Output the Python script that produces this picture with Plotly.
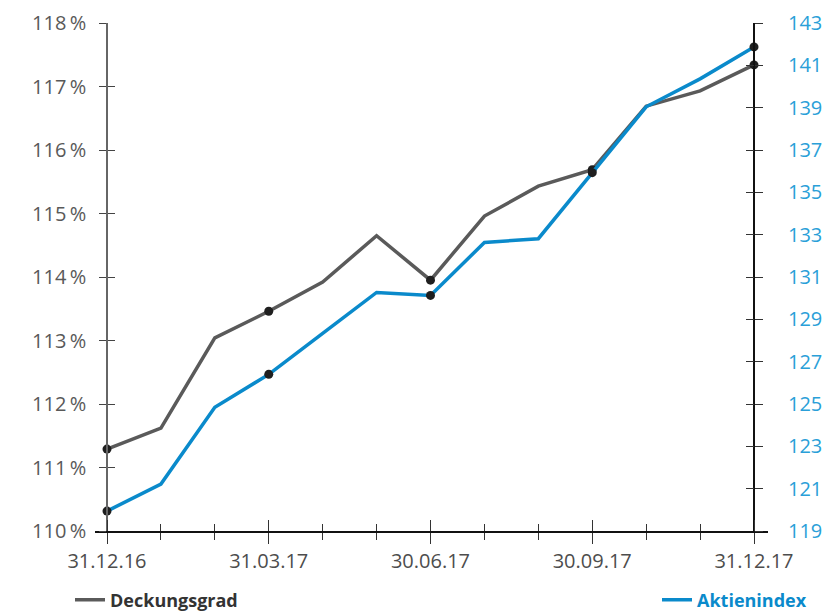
import plotly.graph_objects as go

# ---- data ----
dates = ["31.12.16", "31.01.17", "28.02.17", "31.03.17", "30.04.17", "31.05.17",
         "30.06.17", "31.07.17", "31.08.17", "30.09.17", "31.10.17", "30.11.17", "31.12.17"]
deckungsgrad = [111.29, 111.62, 113.04, 113.46, 113.92, 114.65, 113.95,
                114.96, 115.43, 115.69, 116.69, 116.93, 117.34]
aktienindex = [119.94, 121.22, 124.85, 126.40, 128.34, 130.27, 130.13,
               132.63, 132.81, 135.93, 139.04, 140.36, 141.87]
quarter_labels = ["31.12.16", "31.03.17", "30.06.17", "30.09.17", "31.12.17"]
left_ticks = list(range(110, 119))
right_ticks = list(range(119, 144, 2))

# ---- styling ----
GRAY = "#5a5a5a"
BLUE = "#0a8acb"
FONT = "Open Sans"
W, H = 840, 611
L, R, T, B = 95, 72, 23, 80
x0_px, x12_px = 107, 754
plot_w = W - L - R
unit = (x12_px - x0_px) / 12
xr = [-(x0_px - L) / unit, 12 + (W - R - x12_px) / unit]
pos_left = (x0_px - L) / plot_w
pos_right = (x12_px - L) / plot_w

xs = list(range(len(dates)))
tickvals = [dates.index(q) for q in quarter_labels]
q_idx = tickvals

fig = go.Figure()
fig.add_trace(go.Scatter(
    x=xs, y=deckungsgrad, name="Deckungsgrad", mode="lines",
    line=dict(color=GRAY, width=3.5),
    xaxis="x", yaxis="y", legend="legend"))
fig.add_trace(go.Scatter(
    x=xs, y=aktienindex, name="Aktienindex", mode="lines",
    line=dict(color=BLUE, width=3.5),
    xaxis="x", yaxis="y2", legend="legend2"))
# quarter-end markers
fig.add_trace(go.Scatter(
    x=q_idx, y=[deckungsgrad[i] for i in q_idx], mode="markers",
    marker=dict(color="#1f1f1f", size=9, line=dict(width=0), opacity=1),
    xaxis="x", yaxis="y", showlegend=False, hoverinfo="skip"))
fig.add_trace(go.Scatter(
    x=q_idx, y=[aktienindex[i] for i in q_idx], mode="markers",
    marker=dict(color="#1f1f1f", size=9, line=dict(width=0), opacity=1),
    xaxis="x", yaxis="y2", showlegend=False, hoverinfo="skip"))
# empty traces to create the overlay axes used for inward tick halves
for xa, ya in [("x", "y3"), ("x", "y4"), ("x2", "y")]:
    fig.add_trace(go.Scatter(x=[], y=[], xaxis=xa, yaxis=ya, showlegend=False, hoverinfo="skip"))

tickfont = dict(family=FONT, size=20)
fig.update_layout(
    width=W, height=H,
    margin=dict(l=L, r=R, t=T, b=B, autoexpand=False),
    paper_bgcolor="white", plot_bgcolor="white",
    font=dict(family=FONT),
    showlegend=True,
    xaxis=dict(range=xr, showgrid=False, zeroline=False,
               showline=True, linecolor="#111111", linewidth=2,
               tickmode="array", tickvals=tickvals, ticktext=quarter_labels,
               ticks="outside", ticklen=11, tickwidth=1.3, tickcolor="#333333",
               minor=dict(dtick=1, tick0=0, ticks="outside", ticklen=7, tickwidth=1.3, tickcolor="#333333"),
               tickfont=dict(tickfont, color="#4d4d4d"), ticklabelstandoff=0,
               anchor="y", automargin=False),
    xaxis2=dict(range=xr, overlaying="x", anchor="y", showgrid=False, zeroline=False,
                showticklabels=False, tickmode="array", tickvals=tickvals,
                ticks="inside", ticklen=11, tickwidth=1.3, tickcolor="#333333",
                minor=dict(dtick=1, tick0=0, ticks="inside", ticklen=7, tickwidth=1.3, tickcolor="#333333")),
    yaxis=dict(range=[110, 118], anchor="free", position=pos_left, showgrid=False, zeroline=False,
               showline=True, linecolor="#666666", linewidth=1.5,
               tickmode="array", tickvals=left_ticks,
               ticktext=[f"{v}\u2009%" for v in left_ticks],
               ticks="outside", ticklen=7, tickwidth=1.3, tickcolor="#444444",
               tickfont=dict(tickfont, color="#595959"), ticklabelstandoff=9, automargin=False),
    yaxis3=dict(range=[110, 118], overlaying="y", anchor="free", position=pos_left,
                showgrid=False, zeroline=False, showticklabels=False,
                tickmode="array", tickvals=left_ticks,
                ticks="inside", ticklen=7, tickwidth=1.3, tickcolor="#444444"),
    yaxis2=dict(range=[119, 143], overlaying="y", side="right", anchor="free", position=pos_right,
                showgrid=False, zeroline=False, showline=True, linecolor="#111111", linewidth=2,
                tickmode="array", tickvals=right_ticks,
                ticks="outside", ticklen=8, tickwidth=1.3, tickcolor="#333333",
                tickfont=dict(tickfont, color="#2a9fd8"), ticklabelstandoff=21, automargin=False),
    yaxis4=dict(range=[119, 143], overlaying="y", side="right", anchor="free", position=pos_right,
                showgrid=False, zeroline=False, showticklabels=False,
                tickmode="array", tickvals=right_ticks,
                ticks="inside", ticklen=8, tickwidth=1.3, tickcolor="#333333"),
    legend=dict(xref="container", yref="container", x=70 / W, y=1 - 600 / H,
                xanchor="left", yanchor="middle", orientation="h",
                font=dict(family=FONT, size=18, color="#333333", weight="bold"),
                bgcolor="rgba(0,0,0,0)"),
    legend2=dict(xref="container", yref="container", x=812 / W, y=1 - 600 / H,
                 xanchor="right", yanchor="middle", orientation="h",
                 font=dict(family=FONT, size=18, color=BLUE, weight="bold"),
                 bgcolor="rgba(0,0,0,0)"),
)

fig.write_html("out.html")
